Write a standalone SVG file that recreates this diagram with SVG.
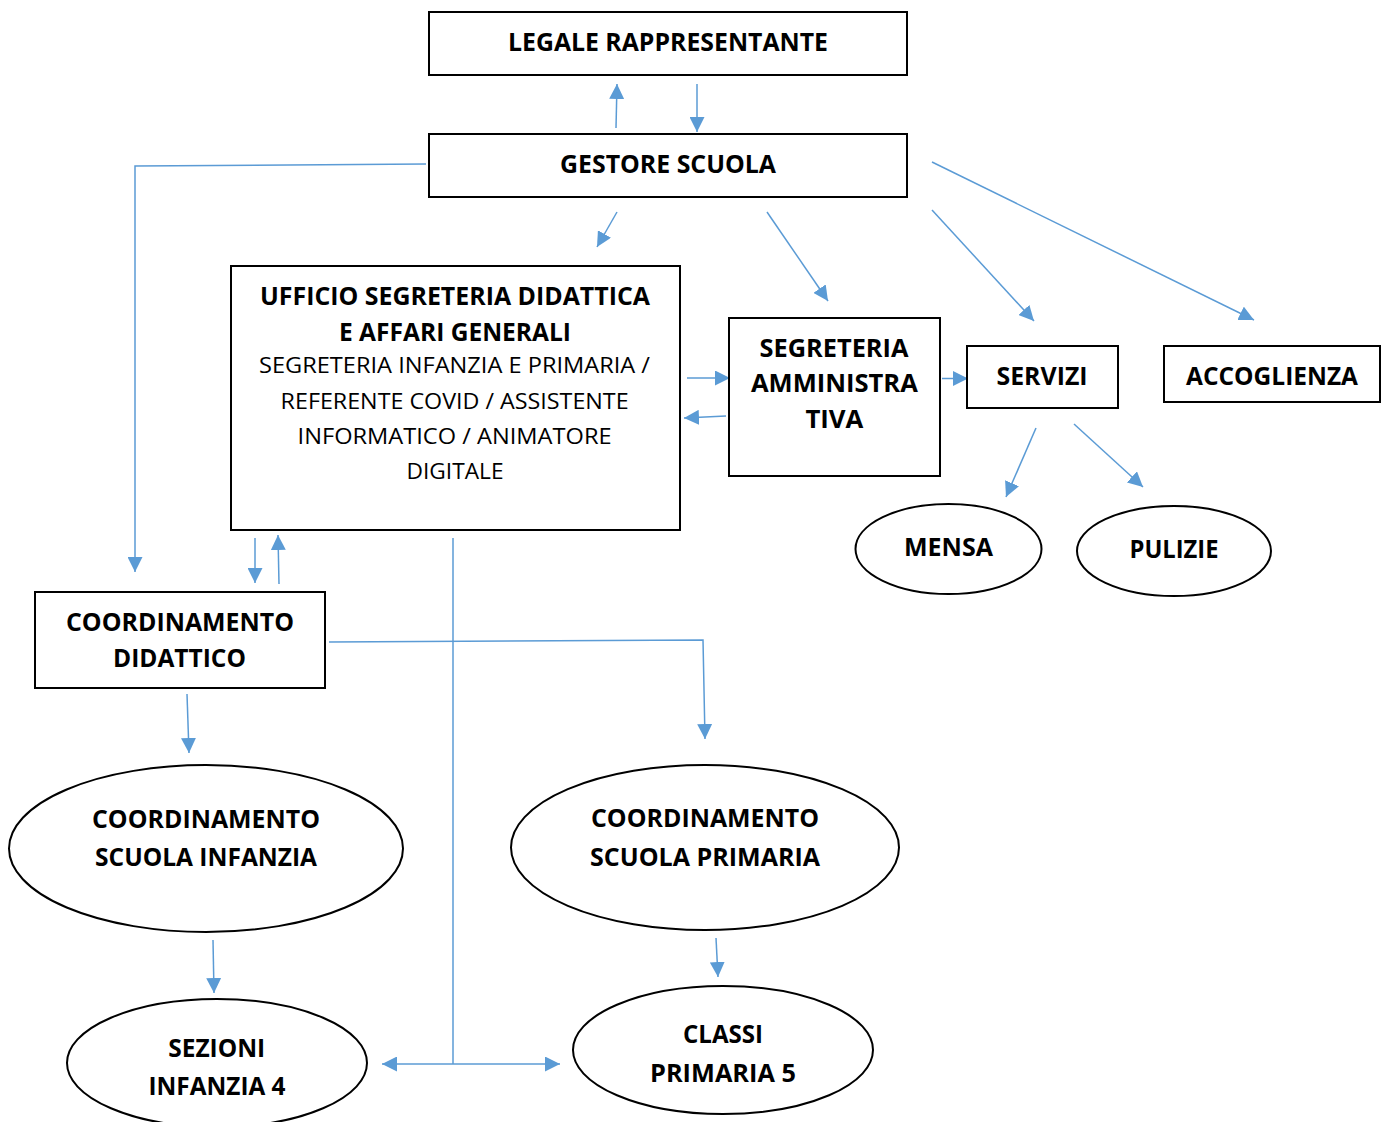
<svg xmlns="http://www.w3.org/2000/svg" width="1387" height="1122" viewBox="0 0 1387 1122">
<style>
.box{fill:#fff;stroke:#000;stroke-width:2}
.b{font-family:"Open Sans","Noto Sans",sans-serif;font-weight:bold;font-size:25px;fill:#000;text-anchor:middle}
.r{font-family:"Open Sans","Noto Sans",sans-serif;font-weight:normal;font-size:21px;fill:#000;text-anchor:middle}
.c{fill:none;stroke:#5B9BD5;stroke-width:1.5}
</style>
<defs>
<marker id="ah" viewBox="0 0 10 10" refX="10" refY="5" markerWidth="15" markerHeight="15" markerUnits="userSpaceOnUse" orient="auto-start-reverse">
<path d="M0,0 L10,5 L0,10 z" fill="#5B9BD5"/>
</marker>
</defs>
<rect width="1387" height="1122" fill="#fff"/>
<g id="connectors">
<line class="c" x1="616" y1="128" x2="617" y2="84" marker-end="url(#ah)"/>
<line class="c" x1="697" y1="84" x2="697" y2="132" marker-end="url(#ah)"/>
<polyline class="c" points="426,164 135,166 135,572" marker-end="url(#ah)"/>
<line class="c" x1="617" y1="212" x2="597" y2="247" marker-end="url(#ah)"/>
<line class="c" x1="767" y1="212" x2="828" y2="301" marker-end="url(#ah)"/>
<line class="c" x1="932" y1="210" x2="1034" y2="321" marker-end="url(#ah)"/>
<line class="c" x1="932" y1="162" x2="1254" y2="320" marker-end="url(#ah)"/>
<line class="c" x1="687" y1="378" x2="730" y2="378" marker-end="url(#ah)"/>
<line class="c" x1="726" y1="416" x2="684" y2="418" marker-end="url(#ah)"/>
<line class="c" x1="942" y1="378.5" x2="968" y2="378.5" marker-end="url(#ah)"/>
<line class="c" x1="1036" y1="428" x2="1006" y2="497" marker-end="url(#ah)"/>
<line class="c" x1="1074" y1="424" x2="1143" y2="487" marker-end="url(#ah)"/>
<line class="c" x1="255" y1="538" x2="255" y2="583" marker-end="url(#ah)"/>
<line class="c" x1="279" y1="584" x2="278" y2="535" marker-end="url(#ah)"/>
<line class="c" x1="453" y1="538" x2="453" y2="1064"/>
<line class="c" x1="382" y1="1064" x2="560" y2="1064" marker-start="url(#ah)" marker-end="url(#ah)"/>
<polyline class="c" points="329,642 703,640 705,739" marker-end="url(#ah)"/>
<line class="c" x1="187" y1="694" x2="189" y2="753" marker-end="url(#ah)"/>
<line class="c" x1="213" y1="940" x2="214" y2="993" marker-end="url(#ah)"/>
<line class="c" x1="716" y1="938" x2="718" y2="977" marker-end="url(#ah)"/>
</g>
<g id="legale">
<rect class="box" x="429" y="12" width="478" height="63"/>
<text class="b" x="668" y="51" textLength="320" lengthAdjust="spacingAndGlyphs">LEGALE RAPPRESENTANTE</text>
</g>
<g id="gestore">
<rect class="box" x="429" y="134" width="478" height="63"/>
<text class="b" x="668" y="173" textLength="216" lengthAdjust="spacingAndGlyphs">GESTORE SCUOLA</text>
</g>
<g id="ufficio">
<rect class="box" x="231" y="266" width="449" height="264"/>
<text class="b" x="455" y="305" textLength="390" lengthAdjust="spacingAndGlyphs">UFFICIO SEGRETERIA DIDATTICA</text>
<text class="b" x="455" y="341" textLength="232" lengthAdjust="spacingAndGlyphs">E AFFARI GENERALI</text>
<text class="r" x="454.5" y="373" textLength="391" lengthAdjust="spacingAndGlyphs">SEGRETERIA INFANZIA E PRIMARIA /</text>
<text class="r" x="454.6" y="409" textLength="348" lengthAdjust="spacingAndGlyphs">REFERENTE COVID / ASSISTENTE</text>
<text class="r" x="454.6" y="444" textLength="314" lengthAdjust="spacingAndGlyphs">INFORMATICO / ANIMATORE</text>
<text class="r" x="455" y="479" textLength="97" lengthAdjust="spacingAndGlyphs">DIGITALE</text>
</g>
<g id="segreteria-amministrativa">
<rect class="box" x="729" y="318" width="211" height="158"/>
<text class="b" x="834" y="357" textLength="149" lengthAdjust="spacingAndGlyphs">SEGRETERIA</text>
<text class="b" x="834.4" y="392" textLength="167" lengthAdjust="spacingAndGlyphs">AMMINISTRA</text>
<text class="b" x="834.4" y="428" textLength="58" lengthAdjust="spacingAndGlyphs">TIVA</text>
</g>
<g id="servizi">
<rect class="box" x="967" y="346" width="151" height="62"/>
<text class="b" x="1042" y="385" textLength="91" lengthAdjust="spacingAndGlyphs">SERVIZI</text>
</g>
<g id="accoglienza">
<rect class="box" x="1164" y="346" width="216" height="56"/>
<text class="b" x="1272" y="385" textLength="172" lengthAdjust="spacingAndGlyphs">ACCOGLIENZA</text>
</g>
<g id="mensa">
<ellipse class="box" cx="948.5" cy="549" rx="93" ry="45"/>
<text class="b" x="948.5" y="556" textLength="89" lengthAdjust="spacingAndGlyphs">MENSA</text>
</g>
<g id="pulizie">
<ellipse class="box" cx="1174" cy="551" rx="97" ry="45"/>
<text class="b" x="1174" y="558" textLength="89" lengthAdjust="spacingAndGlyphs">PULIZIE</text>
</g>
<g id="coordinamento-didattico">
<rect class="box" x="35" y="592" width="290" height="96"/>
<text class="b" x="180" y="631" textLength="228" lengthAdjust="spacingAndGlyphs">COORDINAMENTO</text>
<text class="b" x="179.5" y="667" textLength="133" lengthAdjust="spacingAndGlyphs">DIDATTICO</text>
</g>
<g id="coordinamento-infanzia">
<ellipse class="box" cx="206" cy="848.5" rx="197" ry="83.5"/>
<text class="b" x="206" y="828" textLength="228" lengthAdjust="spacingAndGlyphs">COORDINAMENTO</text>
<text class="b" x="206" y="866" textLength="222" lengthAdjust="spacingAndGlyphs">SCUOLA INFANZIA</text>
</g>
<g id="coordinamento-primaria">
<ellipse class="box" cx="705" cy="847.5" rx="194" ry="82.5"/>
<text class="b" x="705" y="827" textLength="228" lengthAdjust="spacingAndGlyphs">COORDINAMENTO</text>
<text class="b" x="705" y="866" textLength="230" lengthAdjust="spacingAndGlyphs">SCUOLA PRIMARIA</text>
</g>
<g id="sezioni-infanzia">
<ellipse class="box" cx="217" cy="1063" rx="150" ry="64"/>
<text class="b" x="216.7" y="1057" textLength="97" lengthAdjust="spacingAndGlyphs">SEZIONI</text>
<text class="b" x="217" y="1095" textLength="137" lengthAdjust="spacingAndGlyphs">INFANZIA 4</text>
</g>
<g id="classi-primaria">
<ellipse class="box" cx="723" cy="1050" rx="150" ry="64"/>
<text class="b" x="723" y="1043" textLength="80" lengthAdjust="spacingAndGlyphs">CLASSI</text>
<text class="b" x="723" y="1082" textLength="146" lengthAdjust="spacingAndGlyphs">PRIMARIA 5</text>
</g>
</svg>
